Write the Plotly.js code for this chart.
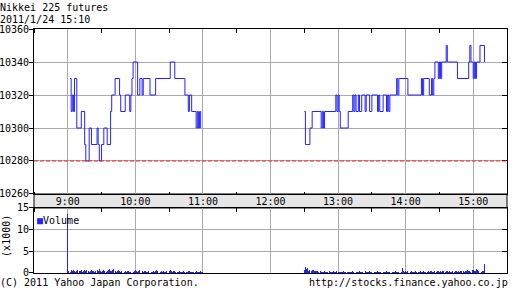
<!DOCTYPE html>
<html><head><meta charset="utf-8">
<script src="https://cdn.plot.ly/plotly-3.0.1.min.js"></script>
<style>html,body{margin:0;padding:0;background:#fff}#chart{width:512px;height:301px}</style>
</head><body><div id="chart"></div>
<script>
const DAY = '2011-01-24 ';
const titleText = 'Nikkei 225 futures';
const dateText = '2011/1/24 15:10';
const copyText = '(C) 2011 Yahoo Japan Corporation.';
const urlText = 'http://stocks.finance.yahoo.co.jp';
const volLabel = 'Volume';
const volUnit = '(x1000)';

const amTimes = ['09:02','09:03','09:04','09:05','09:06','09:08','09:12','09:15','09:16','09:19','09:21','09:26','09:27','09:28','09:30','09:32','09:35','09:38','09:39','09:42','09:46','09:47','09:51','09:55','09:56','09:57','09:58','10:02','10:04','10:06','10:07','10:13','10:18','10:31','10:35','10:44','10:47','10:48','10:50','10:54','10:55','10:56','10:57','10:58'];
const amPrices = [10330,10310,10320,10310,10330,10300,10310,10290,10280,10300,10290,10300,10290,10280,10290,10300,10290,10310,10320,10330,10320,10310,10320,10310,10320,10330,10340,10320,10330,10320,10330,10320,10330,10340,10330,10320,10310,10320,10310,10300,10310,10300,10310,10300];

const pmTimes = ['12:30','12:31','12:35','12:37','12:45','12:46','12:47','12:48','12:58','12:59','13:00','13:01','13:02','13:09','13:13','13:14','13:15','13:16','13:18','13:19','13:21','13:24','13:25','13:28','13:30','13:35','13:36','13:37','13:40','13:43','13:44','13:45','13:46','13:52','13:53','13:54','14:02','14:14','14:15','14:16','14:21','14:23','14:24','14:25','14:26','14:29','14:30','14:31','14:32','14:36','14:37','14:46','14:56','14:57','14:58','15:00','15:01','15:02','15:03','15:06','15:10'];
const pmPrices = [10310,10290,10300,10310,10300,10310,10300,10310,10320,10310,10320,10310,10300,10310,10320,10310,10320,10310,10320,10310,10320,10310,10320,10310,10320,10310,10320,10310,10320,10310,10320,10310,10320,10330,10320,10330,10320,10330,10320,10330,10320,10330,10320,10330,10340,10330,10340,10330,10340,10350,10340,10330,10340,10350,10340,10330,10340,10330,10340,10350,10340];

const volAmStart = '09:00';
const volAm = [13.7,
 0.5,0.3,0.6,0.4,0.7,0.5,0.3,0.4,0.6,0.5,
 0.4,0.7,0.3,0.5,0.6,0.4,0.8,0.5,0.3,0.4,
 0.6,0.5,0.4,0.3,0.5,0.7,0.4,1.0,0.5,0.3,
 0.4,0.6,0.5,0.3,0.4,0.6,1.0,0.5,0.4,0.7,
 0.9,0.5,0.3,0.4,0.6,0.4,0.3,0.5,0.4,0.3,
 0.4,0.3,0.5,0.4,0.3,0.2,0.4,0.3,0.5,0.6,
 0.4,0.3,0.5,0.6,0.3,0.4,0.3,0.5,0.4,0.3,
 0.3,0.5,0.4,0.3,0.2,0.4,0.3,0.5,0.8,0.4,
 0.3,0.2,0.4,0.3,0.5,0.3,0.2,0.4,0.3,0.5,
 0.6,0.4,0.3,0.5,0.4,0.3,0.2,0.3,0.4,0.3,
 0.2,0.3,0.4,0.3,0.2,0.3,0.4,0.5,0.3,0.2,
 0.3,0.2,0.3,0.4,0.3,0.2,0.3,0.4,0.3,0.2];
const volPmStart = '12:30';
const volPm = [0.6,
 1.4,0.9,1.2,0.5,0.7,0.4,0.8,0.6,0.5,0.4,
 0.5,0.4,0.3,0.4,0.3,0.2,0.3,0.4,0.3,0.2,
 0.3,0.4,0.2,0.3,0.2,0.5,0.3,0.2,0.4,0.3,
 0.2,0.3,0.2,0.3,0.4,0.2,0.3,0.2,0.3,0.2,
 0.3,0.2,0.4,0.3,0.2,0.3,0.2,0.3,0.4,0.3,
 0.2,0.3,0.2,0.4,0.3,0.2,0.3,0.4,0.2,0.3,
 0.4,0.3,0.2,0.3,0.4,0.3,0.2,0.3,0.2,0.3,
 0.2,0.3,0.4,0.3,0.2,0.3,0.4,0.3,0.2,0.3,
 0.4,0.3,0.2,0.3,0.4,0.3,1.1,0.5,0.3,0.4,
 0.3,0.4,0.2,0.3,0.4,0.3,0.2,0.3,0.4,0.3,
 0.2,0.3,0.4,0.3,0.2,0.4,0.3,0.2,0.3,0.4,
 0.3,0.5,0.4,0.3,0.2,0.4,0.3,0.5,0.4,0.3,
 0.4,0.3,0.5,0.4,0.3,0.4,0.5,0.3,0.4,0.3,
 0.3,0.4,0.3,0.5,0.4,0.3,0.4,0.3,0.5,0.4,
 0.4,0.3,0.5,0.4,0.6,0.4,0.5,0.3,0.8,0.6,
 0.5,0.4,0.9,0.6,0.4,0.5,0.3,0.4,0.5,2.0];

const prevClose = 10280;
const priceTicks = [10260,10280,10300,10320,10340,10360];
const priceRightTicks = [10280,10300,10320,10340];
const volTicks = [0,5,10,15];
const volRightTicks = [5,10];
const xRange = ['08:30','15:30'];

function minuteSeq(start, n){
  const [h,m] = start.split(':').map(Number);
  const out = [];
  for (let i=0;i<n;i++){
    const tot = h*60+m+i;
    const hh = String(Math.floor(tot/60)).padStart(2,'0');
    const mm = String(tot%60).padStart(2,'0');
    out.push(DAY+hh+':'+mm);
  }
  return out;
}

const BLUE = '#2323ff';
const GRID = '#aaaaaa';
const FONT = 'DejaVu Sans Mono';
const range = xRange.map(t=>DAY+t);
const TF = {family:FONT, size:10, color:'#000'};

const traces = [
  {x: amTimes.map(t=>DAY+t), y: amPrices, xaxis:'x', yaxis:'y', type:'scatter', mode:'lines',
   line:{shape:'hv', color:BLUE, width:1}, hoverinfo:'x+y', showlegend:false},
  {x: pmTimes.map(t=>DAY+t), y: pmPrices, xaxis:'x', yaxis:'y', type:'scatter', mode:'lines',
   line:{shape:'hv', color:BLUE, width:1}, hoverinfo:'x+y', showlegend:false},
  {x: minuteSeq(volAmStart, volAm.length).concat(minuteSeq(volPmStart, volPm.length)),
   y: volAm.concat(volPm), xaxis:'x3', yaxis:'y2', type:'bar', width:50000,
   marker:{color:BLUE, line:{width:0}}, showlegend:false, name:volLabel},
  {x:[], y:[], xaxis:'x2', yaxis:'y', type:'scatter', mode:'lines', showlegend:false},
  {x:[], y:[], xaxis:'x', yaxis:'y3', type:'scatter', mode:'lines', showlegend:false},
  {x:[], y:[], xaxis:'x3', yaxis:'y4', type:'scatter', mode:'lines', showlegend:false}
];

const mainDomain = [0.3238, 1];
const volDomain = [0, 0.2664];
const LEFT = -34/473;

const layout = {
  width:512, height:301,
  margin:{l:34, r:5, t:29, b:28, pad:0},
  paper_bgcolor:'#fff', plot_bgcolor:'#fff',
  font:TF,
  showlegend:false,
  bargap:0,
  xaxis:{type:'date', range:range, anchor:'y', domain:[0,1],
         tick0:DAY+'09:00', dtick:3600000, tickformat:'%-H:%M', ticks:'', ticklabelstandoff:-2,
         showgrid:true, gridcolor:GRID, gridwidth:1, showline:true, linecolor:'#000', linewidth:1,
         mirror:true, zeroline:false, tickfont:TF,
         minor:{tick0:DAY+'08:30', dtick:1800000, ticks:'inside', ticklen:2, tickcolor:'#000', showgrid:false}},
  xaxis2:{type:'date', range:range, overlaying:'x', side:'top', anchor:'y',
          tick0:DAY+'09:00', dtick:3600000, ticks:'', showticklabels:false, showgrid:false,
          showline:false, zeroline:false,
          minor:{tick0:DAY+'08:30', dtick:1800000, ticks:'inside', ticklen:4, tickcolor:'#000', showgrid:false}},
  xaxis3:{type:'date', range:range, anchor:'y2', domain:[0,1], side:'top',
          tick0:DAY+'09:00', dtick:3600000, ticks:'', showticklabels:false,
          showgrid:true, gridcolor:GRID, showline:true, linecolor:'#000', mirror:true, zeroline:false,
          minor:{tick0:DAY+'08:30', dtick:1800000, ticks:'inside', ticklen:4, tickcolor:'#000', showgrid:false}},
  yaxis:{range:[10260,10360], domain:mainDomain, anchor:'x', tickvals:priceTicks, tickformat:'d',
         ticks:'outside', ticklen:4, tickcolor:'#000', showgrid:true, gridcolor:GRID, ticklabelstandoff:-2,
         showline:true, linecolor:'#000', mirror:true, zeroline:false, tickfont:TF},
  yaxis3:{range:[10260,10360], overlaying:'y', side:'right', anchor:'x', tickvals:priceRightTicks,
          ticks:'inside', ticklen:5, tickcolor:'#000', showticklabels:false, showgrid:false, zeroline:false, showline:false},
  yaxis2:{range:[0,15], domain:volDomain, anchor:'x3', tickvals:volTicks, tickformat:'d',
          ticks:'outside', ticklen:4, tickcolor:'#000', showgrid:true, gridcolor:GRID, ticklabelstandoff:-2,
          showline:true, linecolor:'#000', mirror:true, zeroline:false, tickfont:TF},
  yaxis4:{range:[0,15], overlaying:'y2', side:'right', anchor:'x3', tickvals:volRightTicks,
          ticks:'inside', ticklen:5, tickcolor:'#000', showticklabels:false, showgrid:false, zeroline:false, showline:false},
  shapes:[
    {type:'rect', xref:'paper', yref:'paper', x0:0, x1:1, y0:volDomain[1], y1:mainDomain[0],
     fillcolor:'#e6e6e6', line:{color:'#000', width:1}, layer:'below'},
    {type:'line', xref:'paper', yref:'y', x0:0, x1:1, y0:prevClose, y1:prevClose,
     line:{color:'#ff2020', width:1, dash:'4px,2px'}, layer:'above'}
  ],
  annotations:[
    {text:titleText, xref:'paper', yref:'paper', x:LEFT, y:(273-7)/244, xanchor:'left', yanchor:'middle',
     showarrow:false, xshift:-2, font:TF},
    {text:dateText, xref:'paper', yref:'paper', x:LEFT, y:(273-19)/244, xanchor:'left', yanchor:'middle',
     showarrow:false, xshift:-2, font:TF},
    {text:copyText, xref:'paper', yref:'paper', x:LEFT, y:-(282-273)/244, xanchor:'left', yanchor:'middle',
     showarrow:false, xshift:-2, font:TF},
    {text:urlText, xref:'paper', yref:'paper', x:1.002, y:-(282-273)/244, xanchor:'right', yanchor:'middle',
     showarrow:false, xshift:2, font:TF},
    {text:volUnit, xref:'paper', yref:'paper', x:-27/473, y:0.152, xanchor:'center', yanchor:'middle',
     textangle:-90, showarrow:false, font:TF},
    {text:'<span style="color:'+BLUE+'">■</span>'+volLabel, xref:'paper', yref:'paper', x:0.002, y:0.217,
     xanchor:'left', yanchor:'middle', showarrow:false, font:TF}
  ]
};

Plotly.newPlot('chart', traces, layout, {displayModeBar:false, staticPlot:true});
</script></body></html>
